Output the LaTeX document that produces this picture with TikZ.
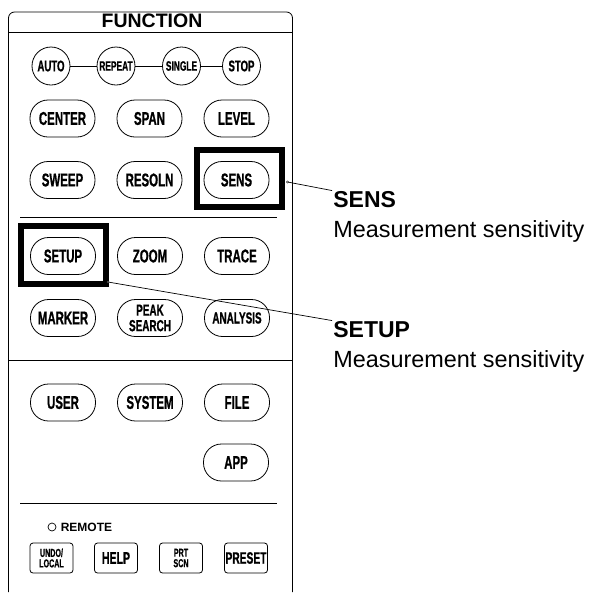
\documentclass[tikz,border=0pt]{standalone}
\usepackage{fontspec}
\setmainfont{Liberation Sans}
\newfontfamily\keyfont[FakeStretch=0.62,FakeBold=0.8]{Liberation Sans Bold}
\usetikzlibrary{positioning,calc}

\begin{document}
\begin{tikzpicture}[x=1pt,y=-1pt,line width=0.8pt,
    key/.style={draw,rounded corners=18pt,minimum width=65pt,minimum height=37pt,
      inner sep=0pt,align=center,font=\keyfont\fontsize{18.5}{14}\selectfont},
    roundkey/.style={draw,circle,minimum size=38pt,inner sep=0pt,
      font=\keyfont\fontsize{15.5}{15}\selectfont},
    smallkey/.style={draw,rounded corners=3pt,minimum width=43pt,minimum height=30pt,
      inner sep=0pt,align=center,font=\keyfont\fontsize{17}{10}\selectfont},
    tinytext/.style={font=\keyfont\fontsize{11.5}{10.5}\selectfont},
    hilite/.style={draw,line width=6pt,inner sep=0pt},
    title/.style={anchor=base west,inner sep=0pt,font=\bfseries\fontsize{23}{23}\selectfont},
    desc/.style={anchor=base west,inner sep=0pt,font=\fontsize{23.4}{23}\selectfont}
    ]
    \useasboundingbox (0,0) rectangle (594,592);

    % the panel
    \draw[rounded corners=6pt] (8.5,592) -- (8.5,12) -- (292.5,12) -- (292.5,592);
    \draw (8.5,32) -- (292.5,32);
    \node[inner sep=0pt,font=\bfseries\fontsize{19.5}{19.5}\selectfont] (function) at (152,21) {FUNCTION};
    \draw (20,217) -- (277,217);
    \draw (8.5,360) -- (292.5,360);
    \draw (20,503) -- (277,503);

    % the round keys
    \node[roundkey] (auto) at (51,66) {AUTO};
    \node[roundkey,font=\keyfont\fontsize{13.5}{13}\selectfont] (repeat) at (116,66) {REPEAT};
    \node[roundkey,font=\keyfont\fontsize{13.5}{13}\selectfont] (single) at (181.5,66) {SINGLE};
    \node[roundkey] (stop) at (241.5,66) {STOP};
    \draw (auto) -- (repeat) -- (single) -- (stop);

    % the oval keys
    \foreach \name/\lbl [count=\i] in {center/CENTER,span/SPAN,level/LEVEL}
    \node[key] (\name) at ({62.5+87*(\i-1)},118.5) {\lbl};
    \foreach \name/\lbl [count=\i] in {sweep/SWEEP,resoln/RESOLN,sens/SENS}
    \node[key] (\name) at ({62.5+87*(\i-1)},180) {\lbl};
    \foreach \name/\lbl [count=\i] in {setup/SETUP,zoom/ZOOM,trace/TRACE}
    \node[key] (\name) at ({63+87*(\i-1)},256) {\lbl};
    \node[key] (marker) at (63,318) {MARKER};
    \node[key,font=\keyfont\fontsize{16}{15.5}\selectfont] (peak) at (150,318) {PEAK\\SEARCH};
    \node[key,font=\keyfont\fontsize{16}{14}\selectfont] (analysis) at (237,318) {ANALYSIS};
    \foreach \name/\lbl [count=\i] in {user/USER,system/SYSTEM,file/FILE}
    \node[key] (\name) at ({63+87*(\i-1)},402.5) {\lbl};
    \node[key] (app) at (236,462.5) {APP};

    % remote lamp and the small keys
    \node[draw,circle,minimum size=8pt,inner sep=0pt,line width=0.7pt] (remoteled) at (52,527) {};
    \node[right=4pt of remoteled,inner sep=0pt,font=\bfseries\fontsize{12}{12}\selectfont] (remote) {REMOTE};
    \node[smallkey,tinytext] (undo) at (51.5,558) {UNDO/\\LOCAL};
    \node[smallkey] (help) at (116,558) {HELP};
    \node[smallkey,tinytext] (prtscn) at (181,558) {PRT\\SCN};
    \node[smallkey,font=\keyfont\fontsize{16.5}{14}\selectfont] (preset) at (246,558) {PRESET};

    % the marked keys
    \node[hilite,minimum width=85pt,minimum height=57pt] (sensbox) at (239.5,178.5) {};
    \node[hilite,minimum width=85pt,minimum height=58pt] (setupbox) at (63.5,255) {};
    \coordinate (sensdot) at ($(sensbox.east)+(2.5,3.5)$);
    \coordinate (setupdot) at ($(setupbox.south east)+(-1,-5)$);

    % the callouts
    \node[title] (senslabel) at (333,207) {SENS};
    \node[desc] (sensdesc) at (333,237) {Measurement sensitivity};
    \node[title] (setuplabel) at (333,337) {SETUP};
    \node[desc] (setupdesc) at (333,367) {Measurement sensitivity};
    \draw[line width=0.7pt] (sensdot) -- ($(senslabel.north west)+(-1,0)$);
    \draw[line width=0.7pt] (setupdot) -- ($(setuplabel.north west)+(-1,0)$);
    \foreach \d in {sensdot,setupdot}
    \draw[line width=0.4pt,fill=white] (\d) circle (1.2pt);
\end{tikzpicture}
\end{document}
